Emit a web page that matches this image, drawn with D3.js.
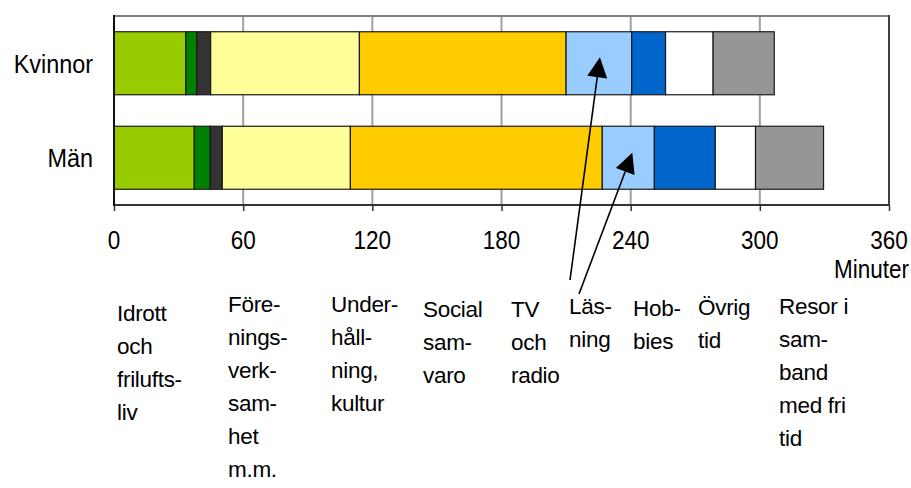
<!DOCTYPE html>
<html>
<head>
<meta charset="utf-8">
<script src="https://cdn.jsdelivr.net/npm/d3@7"></script>
<style>
  html, body { margin: 0; padding: 0; background: #fff; }
  svg { display: block; font-family: "Liberation Sans", Arial, sans-serif; }
</style>
</head>
<body>
<svg id="chart" width="911" height="488"></svg>
<script>
// ---- Data ----
const categories = ["Kvinnor", "Män"];
const activities = [
  "Idrott\noch\nfrilufts-\nliv",
  "Före-\nnings-\nverk-\nsam-\nhet\nm.m.",
  "Under-\nhåll-\nning,\nkultur",
  "Social\nsam-\nvaro",
  "TV\noch\nradio",
  "Läs-\nning",
  "Hob-\nbies",
  "Övrig\ntid",
  "Resor i\nsam-\nband\nmed fri\ntid"
];
const kvinnorValues = [33.4, 5.1, 6.4, 69.1, 96.0, 30.5, 15.7, 22.1, 28.4];
const manValues     = [37.3, 7.4, 5.6, 59.5, 117.0, 24.2, 28.3, 18.7, 31.6];
const tickValues = [0, 60, 120, 180, 240, 300, 360];
const axisTitle = "Minuter";

// ---- Styles ----
const colors = ["#99CC00", "#008000", "#333333", "#FFFF99", "#FFCC00",
                "#99CCFF", "#0066CC", "#FFFFFF", "#969696"];

(function () {
const svg = d3.select("#chart");
const pLeft = 114, pRight = 889, pTop = 16, pBottom = 205;

const x = d3.scaleLinear().domain([0, 360]).range([pLeft, pRight]);
const y = d3.scaleBand().domain(categories).range([pTop, pBottom])
  .paddingInner(1/3).paddingOuter(1/6);

const series = { "Kvinnor": kvinnorValues, "Män": manValues };

// gridlines
svg.append("g").selectAll("line")
  .data(tickValues.filter(t => t > 0 && t < 360))
  .join("line")
  .attr("x1", d => x(d)).attr("x2", d => x(d))
  .attr("y1", pTop).attr("y2", pBottom)
  .attr("stroke", "#a0a0a0").attr("stroke-width", 2);

// frame top & right
svg.append("line").attr("x1", pLeft).attr("x2", pRight).attr("y1", pTop).attr("y2", pTop)
  .attr("stroke", "#808080").attr("stroke-width", 2);
svg.append("line").attr("x1", pRight).attr("x2", pRight).attr("y1", pTop - 1).attr("y2", pBottom)
  .attr("stroke", "#404040").attr("stroke-width", 2);

// bars
const stacked = [];
categories.forEach(c => {
  let acc = 0;
  series[c].forEach((v, i) => {
    stacked.push({ cat: c, i, x0: acc, x1: acc + v });
    acc += v;
  });
});
svg.append("g").selectAll("rect")
  .data(stacked)
  .join("rect")
  .attr("x", d => x(d.x0))
  .attr("y", d => y(d.cat))
  .attr("width", d => x(d.x1) - x(d.x0))
  .attr("height", y.bandwidth())
  .attr("fill", d => colors[d.i])
  .attr("stroke", "#1a1a1a")
  .attr("stroke-width", 1.2);

// x axis
const xAxis = d3.axisBottom(x).tickValues(tickValues).tickSize(6).tickPadding(0).tickFormat("");
const gx = svg.append("g").attr("transform", `translate(0,${pBottom})`).call(xAxis);
gx.select(".domain").attr("stroke", "#333").attr("stroke-width", 2).attr("d", `M${pLeft},0H${pRight}`);
gx.selectAll(".tick line").attr("stroke", "#333").attr("stroke-width", 1.5);

// left axis line
svg.append("line").attr("x1", pLeft).attr("x2", pLeft).attr("y1", pTop - 1).attr("y2", pBottom + 1)
  .attr("stroke", "#111").attr("stroke-width", 2);

// tick labels (slightly condensed)
svg.append("g").selectAll("text")
  .data(tickValues)
  .join("text")
  .attr("transform", d => `translate(${x(d)},249) scale(0.9,1)`)
  .attr("text-anchor", "middle")
  .attr("font-size", 25)
  .attr("fill", "#000")
  .text(d => d);

svg.append("text")
  .attr("transform", `translate(909,278) scale(0.9,1)`)
  .attr("text-anchor", "end")
  .attr("font-size", 25)
  .text(axisTitle);

// category labels
svg.append("g").selectAll("text")
  .data(categories)
  .join("text")
  .attr("transform", d => `translate(93,${y(d) + y.bandwidth() / 2 + 9.5}) scale(0.9,1)`)
  .attr("text-anchor", "end")
  .attr("font-size", 26)
  .text(d => d);

// activity labels below
const labelX = [117, 228, 331, 423, 511, 569, 633, 698, 779];
const labelY = [321, 312, 312, 317, 317, 314, 316, 315, 314];
const lineH = 33;
const lg = svg.append("g");
activities.forEach((a, i) => {
  const t = lg.append("text")
    .attr("x", labelX[i]).attr("y", labelY[i])
    .attr("font-size", 22.5)
    .attr("letter-spacing", -0.3)
    .attr("fill", "#000");
  a.split("\n").forEach((ln, j) => {
    t.append("tspan").attr("x", labelX[i]).attr("y", labelY[i] + j * lineH).text(ln);
  });
});

// arrows to Läsning segments
const li = 5;
function segMid(cat) {
  const vals = series[cat];
  const start = d3.sum(vals.slice(0, li));
  return x(start + vals[li] / 2);
}
const arrows = [
  { from: [570, 280], to: [segMid("Kvinnor") + 1, y("Kvinnor") + y.bandwidth() / 2 - 6] },
  { from: [579, 294], to: [segMid("Män") + 4, y("Män") + y.bandwidth() / 2 - 5] }
];
arrows.forEach(a => {
  const [x1, y1] = a.from, [x2, y2] = a.to;
  const dx = x2 - x1, dy = y2 - y1, len = Math.hypot(dx, dy);
  const ux = dx / len, uy = dy / len;
  const headL = 20, headW = 10;
  const bx = x2 - ux * headL, by = y2 - uy * headL;
  svg.append("line").attr("x1", x1).attr("y1", y1).attr("x2", bx).attr("y2", by)
    .attr("stroke", "#000").attr("stroke-width", 1.6);
  svg.append("path")
    .attr("d", `M${x2},${y2}L${bx - uy * headW},${by + ux * headW}L${bx + uy * headW},${by - ux * headW}Z`)
    .attr("fill", "#000");
});
})();
</script>
</body>
</html>
